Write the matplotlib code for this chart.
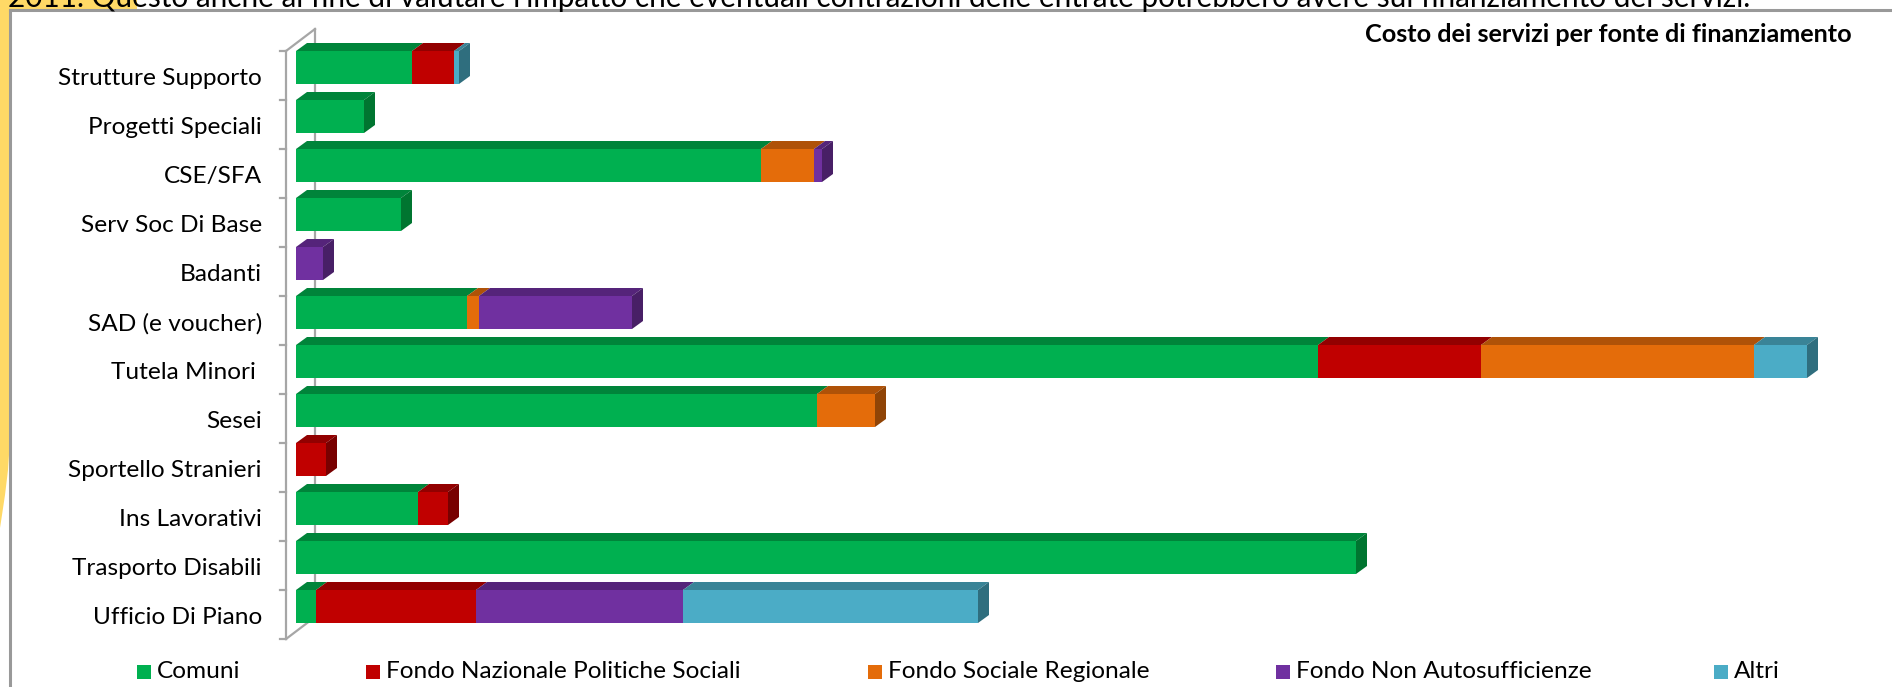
import matplotlib.pyplot as plt
from matplotlib.patches import Polygon, Rectangle

plt.rcParams['font.family'] = ['Lato', 'DejaVu Sans']

# costi per servizio (migliaia di euro), dall'alto verso il basso
servizi = ['Strutture Supporto', 'Progetti Speciali', 'CSE/SFA', 'Serv Soc Di Base',
           'Badanti', 'SAD (e voucher)', 'Tutela Minori ', 'Sesei',
           'Sportello Stranieri', 'Ins Lavorativi', 'Trasporto Disabili', 'Ufficio Di Piano']
comuni = [116, 68, 465, 105, 0, 171, 1022, 521, 0, 122, 1060, 20]
fnps = [42, 0, 0, 0, 0, 0, 163, 0, 30, 30, 0, 160]
fsr = [0, 0, 53, 0, 0, 12, 273, 58, 0, 0, 0, 0]
fna = [0, 0, 8, 0, 27, 153, 0, 0, 0, 0, 0, 207]
altri = [5, 0, 0, 0, 0, 0, 53, 0, 0, 0, 0, 295]

fonti = ['Comuni', 'Fondo Nazionale Politiche Sociali', 'Fondo Sociale Regionale',
         'Fondo Non Autosufficienze', 'Altri']
serie = [comuni, fnps, fsr, fna, altri]
# colore frontale, faccia superiore, fianco
colori = [('#00B050', '#00843A', '#007530'),
          ('#C00000', '#920000', '#780000'),
          ('#E46C0A', '#AF5208', '#904406'),
          ('#7030A0', '#55247A', '#481F66'),
          ('#4BACC6', '#3A8497', '#2F6E7E')]

W, H = 1892, 687
fig = plt.figure(figsize=(W / 100, H / 100), dpi=100)

# livello di sfondo in pixel per cornice e decorazioni della slide
bg = fig.add_axes([0, 0, 1, 1], zorder=0)
bg.set_xlim(0, W)
bg.set_ylim(H, 0)
bg.axis('off')
oro = '#FFD966'
bg.add_patch(Polygon([(0, 0), (137, 0), (137, 10), (10, 10), (10, 440), (8, 470),
                      (5, 495), (2, 515), (0, 528)], closed=True, color=oro, lw=0))
bg.plot([10, 10], [10, H], color='#999999', lw=2.2)
bg.plot([10, W], [10, 10], color='#999999', lw=2.2)
bg.text(8, 7, "2011. Questo anche al fine di valutare l'impatto che eventuali contrazioni "
        "delle entrate potrebbero avere sul finanziamento dei servizi.",
        fontsize=21.4, va='baseline', ha='left', color='black')
bg.text(1852, 35, 'Costo dei servizi per fonte di finanziamento', fontsize=18.2,
        fontweight='bold', ha='right', va='center')

# legenda
leg_sq = [137, 366, 868, 1276, 1714]
for k, nome in enumerate(fonti):
    bg.add_patch(Rectangle((leg_sq[k], 665), 14, 14, color=colori[k][0], lw=0))
    bg.text(leg_sq[k] + 20, 672, nome, fontsize=17.6, va='center', ha='left')

# area del grafico: 1 unita' = 1 px in x, 1 categoria = 49 px in y
ax = fig.add_axes([270 / W, 1 - 650 / H, 1610 / W, 630 / H], zorder=1)
ax.patch.set_alpha(0)
ax.set_xlim(-26, 1584)
ax.set_ylim(12.2245, -0.6327)

h = 33 / 49      # altezza della faccia frontale
dx = 11          # profondita' in x
dy = 8 / 49      # profondita' in y
n = len(servizi)

# pareti prospettiche dell'asse
gc = '#A6A6A6'
wy = 22 / 49
ax.plot([-10, -10], [0, n], color=gc, lw=1.6, zorder=1)
ax.plot([19, 19], [-wy, n - wy], color=gc, lw=1.6, zorder=1)
ax.plot([-10, 19], [0, -wy], color=gc, lw=1.6, zorder=1)
ax.plot([-10, 19], [n, n - wy], color=gc, lw=1.6, zorder=1)
for i in range(n + 1):
    ax.plot([-16, -10], [i, i], color=gc, lw=1.6, zorder=1)

for i in range(n):
    left = 0
    segs = []
    for k, vals in enumerate(serie):
        if vals[i] > 0:
            segs.append((left, left + vals[i], k))
            left += vals[i]
    for l, r, k in segs:
        front, top, side = colori[k]
        ax.barh(i + h / 2, r - l, left=l, height=h, color=front, lw=0, zorder=3)
        ax.add_patch(Polygon([(l, i), (r, i), (r + dx, i - dy), (l + dx, i - dy)],
                             closed=True, color=top, lw=0, zorder=2))
    l, r, k = segs[-1]
    ax.add_patch(Polygon([(r, i), (r + dx, i - dy), (r + dx, i + h - dy), (r, i + h)],
                         closed=True, color=colori[k][2], lw=0, zorder=2))

ax.set_yticks([i + 0.53 for i in range(n)])
ax.set_yticklabels(servizi, fontsize=17.6)
ax.tick_params(axis='y', length=0, pad=5.8)
ax.set_xticks([])
for s in ax.spines.values():
    s.set_visible(False)

fig.savefig('out.png', dpi=100)
